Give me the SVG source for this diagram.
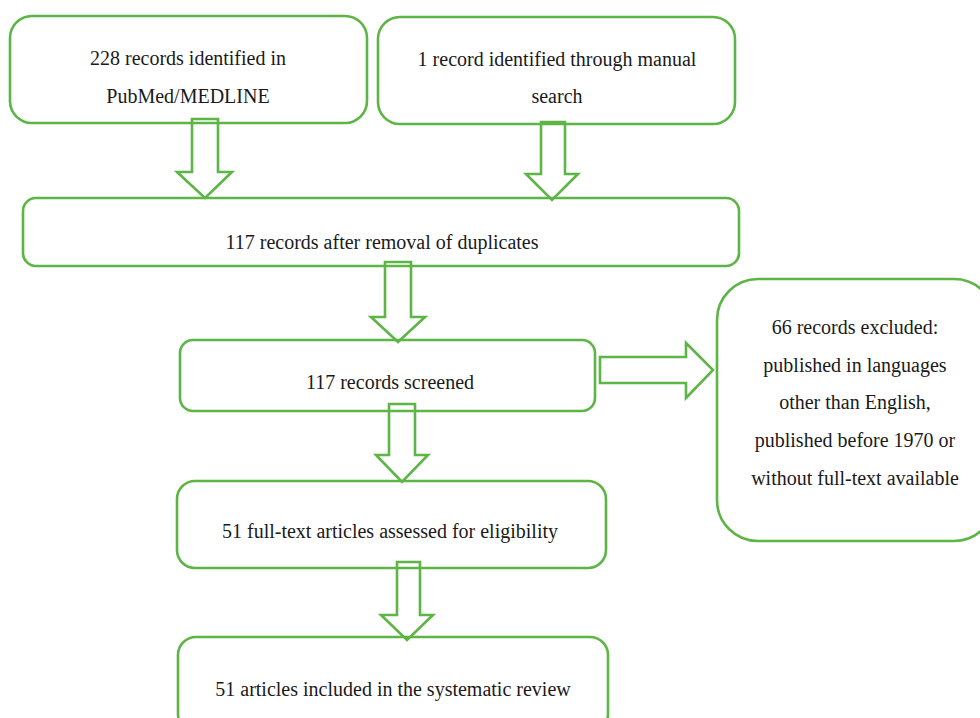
<svg xmlns="http://www.w3.org/2000/svg" width="980" height="718" viewBox="0 0 980 718">
<style>
.box{fill:#fff;stroke:#5db546;stroke-width:2.6}
.arr{fill:none;stroke:#5db546;stroke-width:2.6;stroke-linejoin:miter}
.t{font-family:'Liberation Serif',serif;font-size:20px;fill:#1a1a1a;text-anchor:middle}
</style>
<rect width="980" height="718" fill="#fff"/>
<g id="n1"><rect class="box" x="10" y="16" width="357" height="107" rx="22"/><text class="t" x="188" y="65">228 records identified in</text><text class="t" x="188" y="103">PubMed/MEDLINE</text></g>
<g id="n2"><rect class="box" x="378" y="17" width="357" height="107" rx="22"/><text class="t" x="557" y="66">1 record identified through manual</text><text class="t" x="557" y="103">search</text></g>
<g id="n3"><rect class="box" x="23" y="198" width="716" height="68" rx="13"/><text class="t" x="382" y="249">117 records after removal of duplicates</text></g>
<g id="n4"><rect class="box" x="180" y="340" width="415" height="71" rx="13"/><text class="t" x="390" y="389">117 records screened</text></g>
<g id="n5"><rect class="box" x="717" y="279" width="278" height="262" rx="41"/><text class="t" x="855" y="334">66 records excluded:</text><text class="t" x="855" y="372">published in languages</text><text class="t" x="855" y="409">other than English,</text><text class="t" x="855" y="447">published before 1970 or</text><text class="t" x="855" y="485">without full-text available</text></g>
<g id="n6"><rect class="box" x="177" y="481" width="429" height="87" rx="18"/><text class="t" x="390" y="538">51 full-text articles assessed for eligibility</text></g>
<g id="n7"><rect class="box" x="178" y="637" width="430" height="95" rx="18"/><text class="t" x="393" y="696">51 articles included in the systematic review</text></g>
<g id="connectors">
<path class="arr" d="M192,119 H218 V172 H232 L205,198 L177,172 H192 Z"/>
<path class="arr" d="M541,122 H565 V174 H578 L552,200 L526,174 H541 Z"/>
<path class="arr" d="M385,262 H411 V317 H425 L398,342 L371,317 H385 Z"/>
<path class="arr" d="M389,404 H415 V455 H428 L402,482 L376,455 H389 Z"/>
<path class="arr" d="M397,562 H420 V615 H433 L407,640 L381,615 H397 Z"/>
<path class="arr" d="M600,357 H686 V343 L713,370 L686,398 V383 H600 Z"/>
</g>
</svg>
